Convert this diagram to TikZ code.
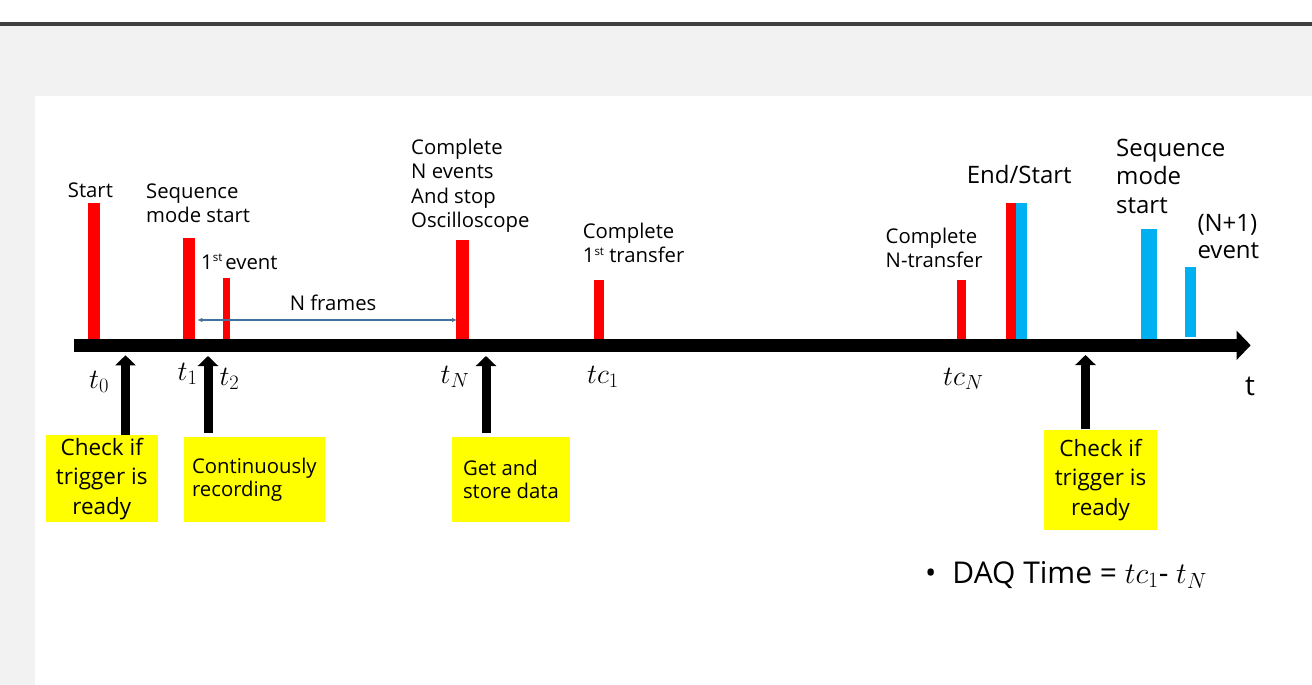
\RequirePackage{fix-cm}
\documentclass[tikz,border=0pt]{standalone}
\usepackage{fontspec}
\setmainfont{Open Sans}
\usetikzlibrary{arrows.meta}
\DeclareMathSizes{28}{28}{20.5}{15}
\DeclareMathSizes{30}{30}{22}{16}
\definecolor{barred}{RGB}{255,0,0}
\definecolor{barblue}{RGB}{0,176,240}
\definecolor{boxyellow}{RGB}{255,255,0}
\definecolor{bggray}{RGB}{242,242,242}
\definecolor{topline}{RGB}{64,64,64}
\definecolor{spanblue}{RGB}{65,113,156}
\newcommand{\mylines}[1]{\begin{tabular}[t]{@{}l@{}}#1\end{tabular}}
\newcommand{\myst}{\raisebox{7.5pt}{\fontsize{11.5}{12}\selectfont st}}
\begin{document}
\begin{tikzpicture}[x=1pt,y=-1pt,
  bar/.style={draw=none, inner sep=0pt, outer sep=0pt, anchor=south west},
  redbar/.style={bar, fill=barred},
  bluebar/.style={bar, fill=barblue},
  lbl/.style={inner sep=0pt, anchor=base west, font=\fontsize{20.3}{24.5}\selectfont},
  biglbl/.style={inner sep=0pt, anchor=base west, font=\fontsize{24}{28.6}\selectfont},
  tlbl/.style={inner sep=0pt, anchor=base west, font=\fontsize{28}{30}\selectfont},
  ybox/.style={fill=boxyellow, inner sep=0pt, anchor=north west},
  ybig/.style={ybox, align=center, font=\fontsize{22.5}{29.5}\selectfont},
  ysmall/.style={ybox, align=left, font=\fontsize{20.3}{23}\selectfont},
  uparrow/.style={line width=9pt, -{Triangle[width=20pt,length=10pt]}},
]
\useasboundingbox (0,0) rectangle (1312,685);
% background
\fill[white] (0,0) rectangle (1312,22);
\fill[topline] (0,22) rectangle (1312,26);
\fill[bggray] (0,26) rectangle (1312,685);
\fill[white] (35,96) rectangle (1312,685);

% bars
\node[redbar, minimum width=12pt, minimum height=135.7pt] (bStart) at (88.3,339) {};
\node[redbar, minimum width=12pt, minimum height=101.3pt] (bSeq) at (183.3,339) {};
\node[redbar, minimum width=7.3pt, minimum height=61pt] (bEv1) at (222.7,339) {};
\node[redbar, minimum width=13.3pt, minimum height=99pt] (bTN) at (456,339) {};
\node[redbar, minimum width=9.7pt, minimum height=58.7pt] (bTC1) at (594.3,339) {};
\node[redbar, minimum width=9.7pt, minimum height=58.7pt] (bTCN) at (956.5,339) {};
\node[redbar, minimum width=10.6pt, minimum height=135.7pt] (bEndR) at (1005.8,339) {};
\node[bluebar, minimum width=10.1pt, minimum height=135.7pt] (bEndB) at (1016.4,339) {};
\node[bluebar, minimum width=16pt, minimum height=109.7pt] (bSeq2) at (1140.7,339) {};
\node[bluebar, minimum width=10.7pt, minimum height=69.4pt] (bEv2) at (1185.3,336.7) {};

% time axis
\coordinate (ax0) at (74.3,345.3);
\coordinate (ax1) at (1250.7,345.3);
\draw[line width=13.3pt, -{Triangle[width=28.3pt,length=14pt]}] (ax0) -- (ax1);

% N frames span
\coordinate (spanY) at (0,320);
\draw[spanblue, line width=1.2pt, {Latex[length=5pt,width=4.5pt]}-{Latex[length=5pt,width=4.5pt]}]
  ([xshift=2pt]bSeq.east |- spanY) -- ([xshift=1pt]bTN.west |- spanY);
\node[lbl] (lNf) at (289.6,310) {N frames};

% labels above the axis
\node[lbl] (lStart) at (67.7,197.3) {Start};
\node[lbl] (lSeq) at (146,198) {\mylines{Sequence\\mode start}};
\node[lbl] (lEv1) at (201,269) {1\myst\hspace{3pt}event};
\node[lbl] (lCompN) at (411,154.3) {\mylines{Complete\\N events\\And stop\\Oscilloscope}};
\node[lbl] (lComp1) at (582.7,238) {\mylines{Complete\\1\myst\ transfer}};
\node[lbl] (lCompNT) at (885.5,243.3) {\mylines{Complete\\N-transfer}};
\node[biglbl] (lEnd) at (966.6,183.3) {End/Start};
\node[biglbl] (lSeq2) at (1116,156) {\mylines{Sequence\\mode\\start}};
\node[biglbl] (lEv2) at (1197.3,231.7) {\mylines{(N+1)\\[-2.3pt]event}};

% time labels
\node[tlbl] (t0) at (89,388.3) {$t_0$};
\node[tlbl] (t1) at (177.5,380.7) {$t_1$};
\node[tlbl] (t2) at (219.3,385.7) {$t_2$};
\node[tlbl] (tN) at (440.5,383) {$t_N$};
\node[tlbl] (tc1) at (587,383) {$tc_1$};
\node[tlbl] (tcN) at (943,385) {$tc_N$};
\node[inner sep=0pt, anchor=base west, font=\fontsize{28}{30}\selectfont] (lt) at (1245,395) {t};

% yellow boxes
\node[ybig, minimum width=111.5pt, minimum height=87pt] (y1) at (45.8,435) {Check if\\trigger is\\ready};
\node[ysmall, minimum width=141.5pt, minimum height=85pt] (y2) at (183.4,437) {Continuously\\recording};
\node[ysmall, minimum width=117.5pt, minimum height=85pt] (y3) at (452,437) {Get and\\store data};
\node[ybig, minimum width=112.7pt, minimum height=100.7pt] (y4) at (1044,429.3) {Check if\\trigger is\\ready};

% upward arrows
\coordinate (a1) at (125.5,355.3);
\coordinate (a2) at (208,356);
\coordinate (a3) at (486,356);
\coordinate (a4) at (1085.5,355);
\draw[uparrow] (y1.north -| a1) -- (a1);
\draw[uparrow, shorten <=4pt] (y2.north -| a2) -- (a2);
\draw[uparrow, shorten <=4pt] (y3.north -| a3) -- (a3);
\draw[uparrow] (y4.north -| a4) -- (a4);

% DAQ time
\node[inner sep=0pt, anchor=base west, font=\fontsize{30}{34}\selectfont] (daq) at (925,583.3)
  {\textbullet\hspace{16pt}DAQ Time = $tc_1$- $t_N$};
\end{tikzpicture}
\end{document}
